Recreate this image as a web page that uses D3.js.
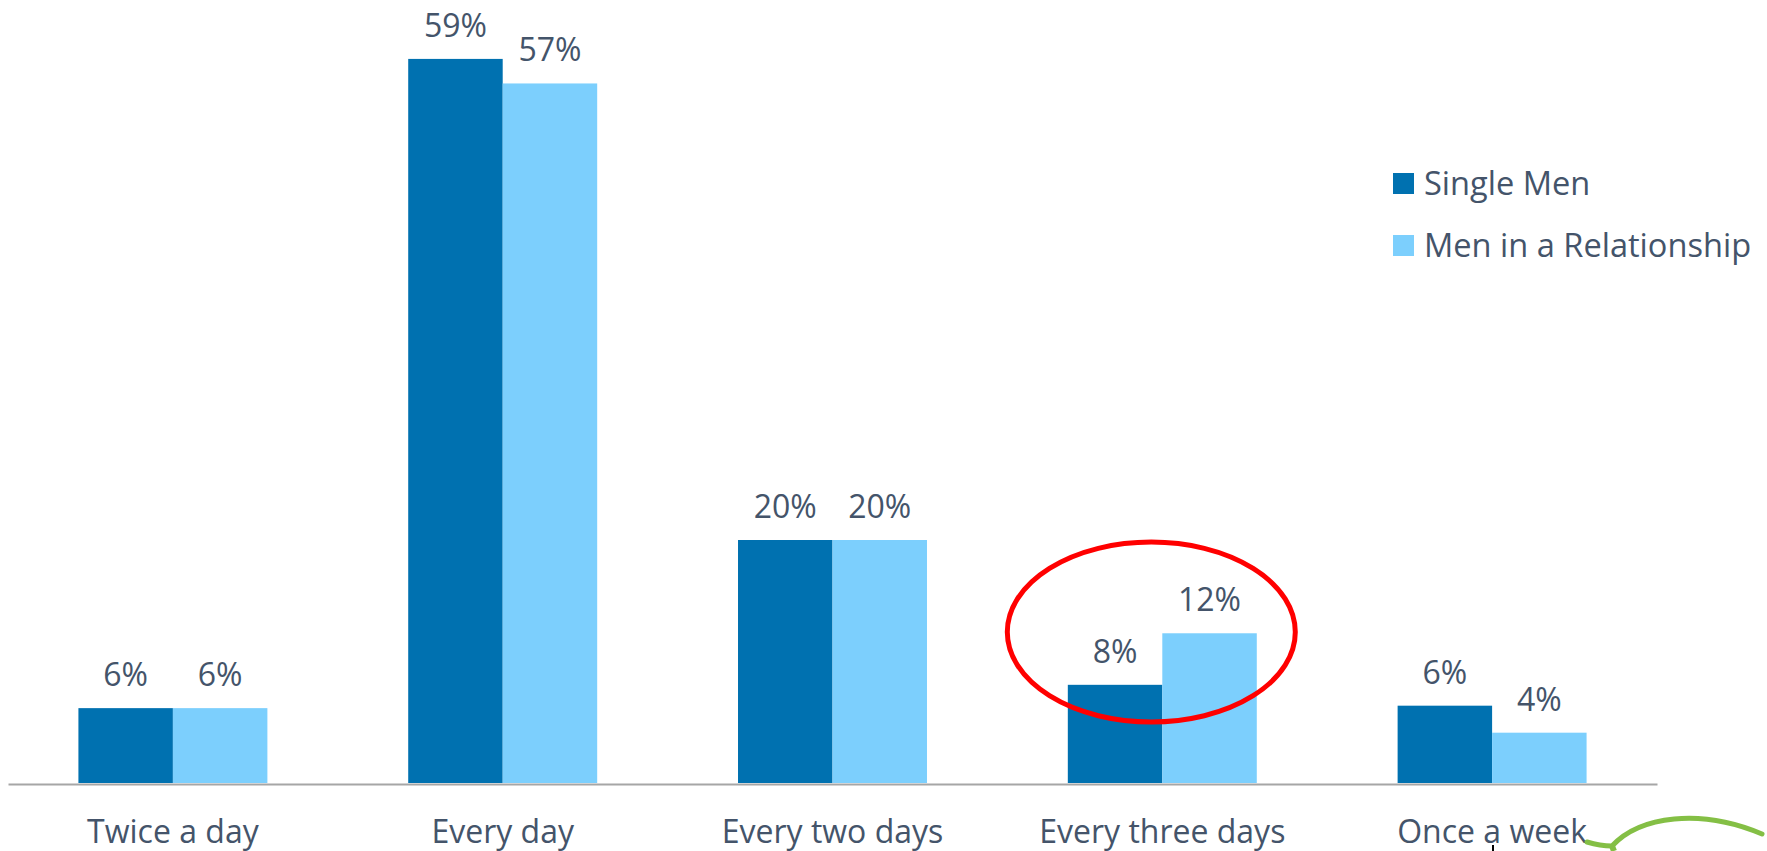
<!DOCTYPE html>
<html>
<head>
<meta charset="utf-8">
<script src="https://cdn.jsdelivr.net/npm/d3@7"></script>
<style>
  html, body { margin: 0; padding: 0; background: #ffffff; }
  svg { display: block; }
  text { font-family: "Open Sans", "Noto Sans", sans-serif; fill: #44546a; }
</style>
</head>
<body>
<svg id="chart" width="1767" height="851"></svg>
<script>
// ---- data ----
const categories = ["Twice a day", "Every day", "Every two days", "Every three days", "Once a week"];
const seriesNames = ["Single Men", "Men in a Relationship"];
const singleMen = [6.1, 59, 19.8, 8, 6.3];
const menInRelationship = [6.1, 57, 19.8, 12.2, 4.1];
const highlightCategory = "Every three days";

// ---- layout ----
const colors = ["#0071b0", "#7ccffd"];
const svg = d3.select("#chart");

const x = d3.scaleBand()
  .domain(categories)
  .range([8, 1657])
  .paddingInner(0.427)
  .paddingOuter(0.2135);

const xs = d3.scaleBand()
  .domain(seriesNames)
  .range([0, x.bandwidth()]);

const y = d3.scaleLinear().domain([0, 63.8]).range([783, 0]);

const fmt = v => d3.format(".0f")(v) + "%";

const rows = categories.map((c, i) => ({
  cat: c,
  vals: [
    { s: seriesNames[0], v: singleMen[i], c: colors[0] },
    { s: seriesNames[1], v: menInRelationship[i], c: colors[1] }
  ]
}));

const g = svg.append("g");

const groups = g.selectAll("g.grp").data(rows).join("g")
  .attr("class", "grp")
  .attr("transform", d => `translate(${x(d.cat)},0)`);

groups.selectAll("rect").data(d => d.vals).join("rect")
  .attr("x", d => xs(d.s))
  .attr("width", xs.bandwidth())
  .attr("y", d => y(d.v))
  .attr("height", d => y(0) - y(d.v))
  .attr("fill", d => d.c);

groups.selectAll("text.val").data(d => d.vals).join("text")
  .attr("class", "val")
  .attr("x", d => xs(d.s) + xs.bandwidth() / 2)
  .attr("y", d => y(d.v) - 22)
  .attr("text-anchor", "middle")
  .style("font-size", "32px")
  .text(d => fmt(d.v));

// x axis
const xAxis = d3.axisBottom(x).tickSize(0).tickPadding(0);
const axisG = svg.append("g")
  .attr("transform", `translate(0,${y(0) + 1})`)
  .call(xAxis);
axisG.select(".domain").attr("stroke", "#a6a6a6").attr("stroke-width", 2.2);
axisG.selectAll(".tick text")
  .attr("y", 59)
  .attr("dy", 0)
  .style("font-size", "32px")
  .style("font-family", "'Open Sans', sans-serif")
  .attr("fill", "#44546a");

// legend
const legend = svg.append("g").attr("transform", "translate(1393,173)");
seriesNames.forEach((s, i) => {
  const lg = legend.append("g").attr("transform", `translate(0,${i * 62})`);
  lg.append("rect").attr("width", 21).attr("height", 21).attr("fill", colors[i]);
  lg.append("text").attr("x", 31).attr("y", 22)
    .style("font-size", "32.6px").text(s);
});

// highlight ellipse around "Every three days"
const hi = categories.indexOf(highlightCategory);
const cx = x(highlightCategory) + x.bandwidth() / 2 - 11;
const cy = y((singleMen[hi] + menInRelationship[hi]) / 2 + 2.2);
svg.append("ellipse")
  .attr("cx", cx).attr("cy", cy)
  .attr("rx", 144).attr("ry", 90)
  .attr("fill", "none")
  .attr("stroke", "#ff0000")
  .attr("stroke-width", 5);

// decorative logo fragment (bottom right)
svg.append("path")
  .attr("d", "M1587,842 C1597,845 1605,846 1612,846 C1640,816 1700,808 1762,834")
  .attr("fill", "none")
  .attr("stroke", "#84bf45")
  .attr("stroke-width", 5)
  .attr("stroke-linecap", "round");
svg.append("path")
  .attr("d", "M1612,846 L1614,851")
  .attr("stroke", "#84bf45").attr("stroke-width", 6);
svg.append("line")
  .attr("x1", 1493).attr("x2", 1493).attr("y1", 845).attr("y2", 851)
  .attr("stroke", "#000").attr("stroke-width", 2);
</script>
</body>
</html>
